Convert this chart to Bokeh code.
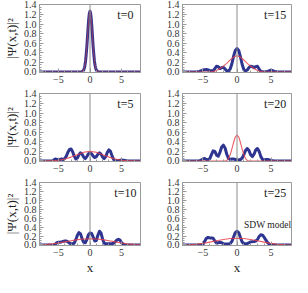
from bokeh.plotting import figure
from bokeh.layouts import column, row
from bokeh.models import Range1d, FixedTicker, PrintfTickFormatter, Span, Label
from bokeh.embed import file_html
from bokeh.resources import INLINE

# ---- data ----
x_t0 = [-8, -1.4, -1.2, -1.0, -0.9, -0.8, -0.7, -0.6, -0.5, -0.4, -0.3, -0.2, -0.1, 0,
        0.1, 0.2, 0.3, 0.4, 0.5, 0.6, 0.7, 0.8, 0.9, 1.0, 1.2, 1.4, 8]
blue_t0 = [0, 0, 0.01, 0.04, 0.08, 0.14, 0.23, 0.37, 0.53, 0.73, 0.93, 1.11, 1.23, 1.27,
           1.23, 1.11, 0.93, 0.73, 0.53, 0.37, 0.23, 0.14, 0.08, 0.04, 0.01, 0, 0]
red_t0 = list(blue_t0)

x_b15 = [-8, -6, -5.5, -5, -4.5, -4, -3.5, -3.25, -3, -2.75, -2.5, -2.25, -2, -1.75, -1.5,
         -1.25, -1, -0.75, -0.5, -0.25, 0, 0.25, 0.5, 0.75, 1, 1.25, 1.5, 1.75, 2, 2.25,
         2.5, 2.75, 3, 3.25, 3.5, 4, 4.5, 5, 5.5, 6, 8]
blue_t15 = [0, 0, 0.01, 0.04, 0.05, 0.03, 0.02, 0.07, 0.12, 0.11, 0.07, 0.09, 0.10, 0.06, 0.02,
            0.02, 0.06, 0.17, 0.33, 0.45, 0.49, 0.45, 0.32, 0.16, 0.05, 0.02, 0.04, 0.09, 0.12, 0.11,
            0.09, 0.11, 0.12, 0.06, 0.01, 0.0, 0.01, 0.04, 0.01, 0, 0]
x_r15 = [-8, -4, -3.5, -3, -2.5, -2, -1.5, -1, -0.5, 0, 0.5, 1, 1.5, 2, 2.5, 3, 3.5, 4, 8]
red_t15 = [0, 0, 0.01, 0.03, 0.07, 0.12, 0.18, 0.25, 0.31, 0.34, 0.31, 0.25, 0.18, 0.12, 0.07,
           0.03, 0.01, 0, 0]

x_b5 = [-8, -6, -5.75, -5.5, -5.25, -5, -4.75, -4.5, -4.25, -4, -3.75, -3.5, -3.25, -3, -2.75,
        -2.5, -2.25, -2, -1.75, -1.5, -1.25, -1, -0.75, -0.5, -0.25, 0, 0.25, 0.5, 0.75, 1,
        1.25, 1.5, 1.75, 2, 2.25, 2.5, 2.75, 3, 3.25, 3.5, 3.75, 4, 4.5, 5, 5.5, 6, 8]
blue_t5 = [0, 0, 0.02, 0.04, 0.03, 0.02, 0.03, 0.04, 0.03, 0.05, 0.10, 0.18, 0.24, 0.25, 0.19,
           0.10, 0.04, 0.06, 0.13, 0.17, 0.14, 0.08, 0.05, 0.09, 0.15, 0.17, 0.15, 0.10, 0.07, 0.09,
           0.14, 0.17, 0.14, 0.08, 0.05, 0.09, 0.18, 0.23, 0.20, 0.10, 0.03, 0.01, 0.01, 0.02, 0.01, 0, 0]
x_r5 = [-8, -7, -6, -5, -4, -3, -2, -1, 0, 1, 2, 3, 4, 5, 6, 7, 8]
red_t5 = [0, 0.001, 0.005, 0.015, 0.04, 0.08, 0.13, 0.18, 0.20, 0.18, 0.13, 0.08, 0.04, 0.015,
          0.005, 0.001, 0]

x_b20 = [-8, -5.5, -5.25, -5, -4.75, -4.5, -4.25, -4, -3.75, -3.5, -3.25, -3, -2.75, -2.5, -2.25,
         -2, -1.75, -1.5, -1.25, -1, -0.75, -0.5, -0.25, 0, 0.25, 0.5, 0.75, 1, 1.25, 1.5, 1.75,
         2, 2.25, 2.5, 2.75, 3, 3.25, 3.5, 3.75, 4, 4.25, 4.5, 4.75, 5, 5.5, 8]
blue_t20 = [0, 0, 0.02, 0.04, 0.05, 0.03, 0.02, 0.05, 0.13, 0.21, 0.20, 0.12, 0.10, 0.18, 0.29,
            0.33, 0.27, 0.14, 0.05, 0.03, 0.04, 0.04, 0.03, 0.02, 0.02, 0.03, 0.06, 0.13, 0.22, 0.26, 0.22,
            0.13, 0.09, 0.14, 0.23, 0.26, 0.20, 0.09, 0.03, 0.02, 0.03, 0.03, 0.02, 0.01, 0, 0]
x_r20 = [-8, -1.75, -1.5, -1.25, -1, -0.75, -0.5, -0.25, 0, 0.25, 0.5, 0.75, 1, 1.25, 1.5, 1.75, 8]
red_t20 = [0, 0, 0.01, 0.05, 0.13, 0.25, 0.39, 0.50, 0.54, 0.50, 0.39, 0.25, 0.13, 0.05, 0.01, 0, 0]

x_b10 = [-8, -5.75, -5.5, -5.25, -5, -4.75, -4.5, -4.25, -4, -3.75, -3.5, -3.25, -3, -2.75, -2.5,
         -2.25, -2, -1.75, -1.5, -1.25, -1, -0.75, -0.5, -0.25, 0, 0.25, 0.5, 0.75, 1, 1.25, 1.5,
         1.75, 2, 2.25, 2.5, 3, 3.5, 3.75, 4, 4.25, 4.5, 4.75, 5, 5.25, 5.5, 8]
blue_t10 = [0, 0, 0.02, 0.05, 0.06, 0.06, 0.07, 0.08, 0.09, 0.09, 0.07, 0.04, 0.03, 0.03, 0.04,
            0.12, 0.22, 0.28, 0.25, 0.14, 0.06, 0.05, 0.12, 0.23, 0.27, 0.26, 0.18, 0.09, 0.10, 0.22, 0.31,
            0.27, 0.13, 0.04, 0.03, 0.03, 0.03, 0.04, 0.07, 0.11, 0.13, 0.11, 0.05, 0.02, 0, 0]
x_r10 = [-8, -7, -6, -5, -4, -3, -2, -1, 0, 1, 2, 3, 4, 5, 6, 7, 8]
red_t10 = [0.005, 0.01, 0.025, 0.045, 0.07, 0.095, 0.12, 0.135, 0.14, 0.135, 0.12, 0.095, 0.07,
           0.045, 0.025, 0.01, 0.005]

x_b25 = [-8, -5.25, -5, -4.75, -4.5, -4.25, -4, -3.75, -3.5, -3.25, -3, -2.75, -2.5, -2.25, -2,
         -1.5, -1, -0.75, -0.5, -0.25, 0, 0.25, 0.5, 0.75, 1, 1.5, 1.75, 2, 2.5, 2.75, 3, 3.25,
         3.5, 3.75, 4, 4.25, 4.5, 4.75, 5, 5.5, 8]
blue_t25 = [0, 0, 0.02, 0.08, 0.15, 0.17, 0.16, 0.16, 0.15, 0.09, 0.04, 0.05, 0.06, 0.05, 0.03,
            0.02, 0.03, 0.08, 0.18, 0.28, 0.31, 0.28, 0.17, 0.07, 0.03, 0.03, 0.05, 0.07, 0.08, 0.09,
            0.12, 0.19, 0.23, 0.22, 0.17, 0.11, 0.05, 0.02, 0.01, 0, 0]
x_r25 = [-8, -7, -6, -5, -4, -3, -2, -1, 0, 1, 2, 3, 4, 5, 6, 7, 8]
red_t25 = [0, 0.003, 0.015, 0.035, 0.065, 0.095, 0.125, 0.145, 0.15, 0.145, 0.125, 0.095, 0.065,
           0.035, 0.015, 0.003, 0]

y_ticks = [0, 0.2, 0.4, 0.6, 0.8, 1.0, 1.2, 1.4]
x_ticks = [-5, 0, 5]
panel_titles = ["t=0", "t=15", "t=5", "t=20", "t=10", "t=25"]

BLUE = "#2e3590"
RED = "#e8404a"
FONT = "Liberation Serif"
AX = "#9a9a9a"


def make_fig(xb, yb, xr, yr, title, left_col, row_idx, red_alpha=0.85):
    bottom = row_idx == 2
    p = figure(width=142 if left_col else 150,
               height=99 if bottom else 89,
               x_range=Range1d(-8, 8), y_range=Range1d(-0.012, 1.41),
               output_backend="svg", toolbar_location=None,
               min_border_left=31 if left_col else 40, min_border_right=2 if left_col else 1,
               min_border_top=4, min_border_bottom=27 if bottom else 17)
    p.grid.visible = False
    p.outline_line_color = AX
    p.background_fill_color = "white"
    p.border_fill_color = "white"

    p.line(xb, yb, line_color=BLUE, line_width=3.0, line_join="round")
    p.line(xr, yr, line_color=RED, line_width=1.1, line_alpha=red_alpha)
    p.add_layout(Span(location=0, dimension="height", line_color="#8c8c8c", line_width=1))

    for ax in (p.xaxis[0], p.yaxis[0]):
        ax.axis_line_color = AX
        ax.major_tick_line_color = AX
        ax.minor_tick_line_color = AX
        ax.major_tick_in = 4
        ax.major_tick_out = 0
        ax.minor_tick_in = 2
        ax.minor_tick_out = 0
        ax.major_label_text_font = FONT
        ax.major_label_text_font_size = "10px"
        ax.major_label_text_color = "#333333"
        ax.axis_label_text_font = FONT
        ax.axis_label_text_font_style = "normal"
        ax.axis_label_text_font_size = "13px"
        ax.axis_label_text_color = "#222222"

    p.xaxis.ticker = FixedTicker(ticks=x_ticks, minor_ticks=list(range(-8, 9)))
    p.xaxis.major_label_overrides = {-5: "\u22125", 0: "0", 5: "5"}
    p.xaxis.major_label_standoff = 3
    p.yaxis.ticker = FixedTicker(ticks=y_ticks,
                                 minor_ticks=[i * 0.05 for i in range(29)])
    p.yaxis.formatter = PrintfTickFormatter(format="%.1f")
    p.yaxis.major_label_standoff = 3

    if left_col:
        p.yaxis.axis_label = "|\u03a8(x,t)|\u00b2"
        p.yaxis.axis_label_standoff = 2
    if bottom:
        p.xaxis.axis_label = "x"
        p.xaxis.axis_label_standoff = 1

    p.add_layout(Label(x=5.6, y=1.18, text=title, text_font=FONT, text_font_size="12px",
                       text_align="center", text_baseline="middle", text_color="#222222"))
    if title == "t=25":
        p.add_layout(Label(x=4.5, y=0.44, text="SDW model", text_font=FONT,
                           text_font_size="9.5px", text_align="center",
                           text_baseline="middle", text_color="#222222"))
    return p


p1 = make_fig(x_t0, blue_t0, x_t0, red_t0, panel_titles[0], True, 0, red_alpha=0.5)
p2 = make_fig(x_b15, blue_t15, x_r15, red_t15, panel_titles[1], False, 0)
p3 = make_fig(x_b5, blue_t5, x_r5, red_t5, panel_titles[2], True, 1)
p4 = make_fig(x_b20, blue_t20, x_r20, red_t20, panel_titles[3], False, 1)
p5 = make_fig(x_b10, blue_t10, x_r10, red_t10, panel_titles[4], True, 2)
p6 = make_fig(x_b25, blue_t25, x_r25, red_t25, panel_titles[5], False, 2)

layout = column(row(p1, p2), row(p3, p4), row(p5, p6))
p = layout
open("out.html", "w").write(file_html(p, INLINE))
